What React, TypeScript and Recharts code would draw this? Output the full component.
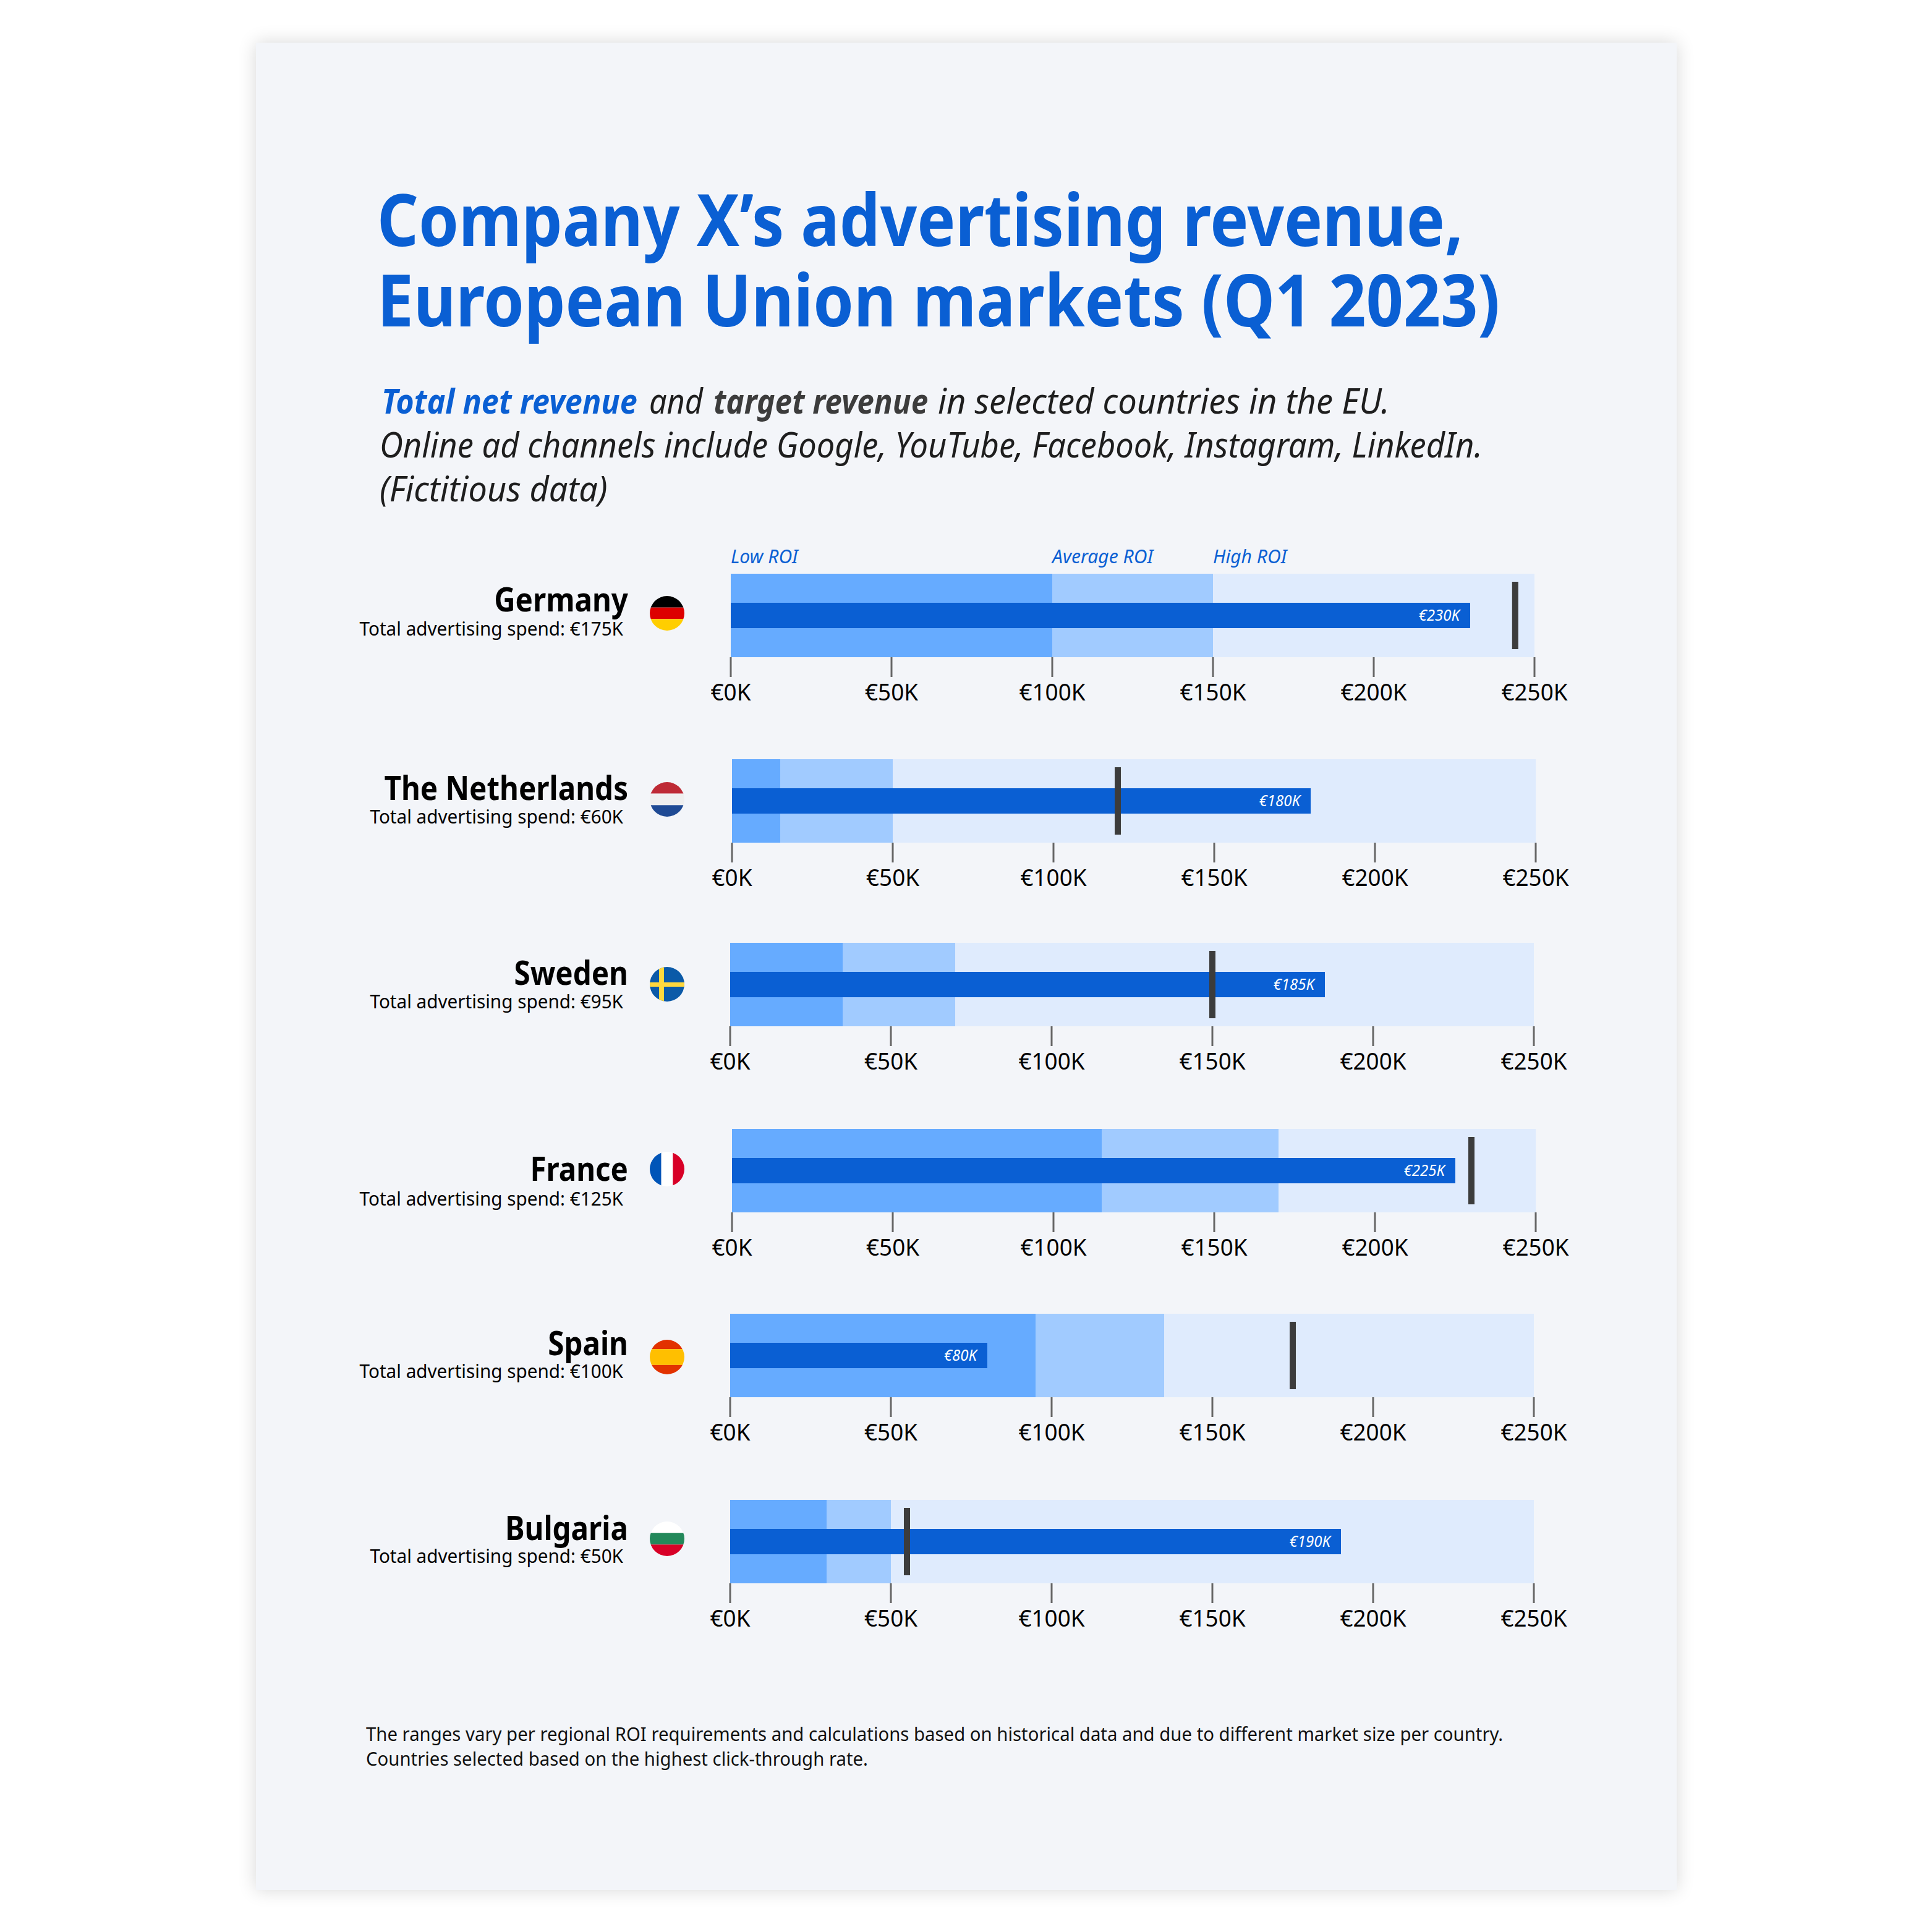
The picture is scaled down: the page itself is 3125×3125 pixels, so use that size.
import { Bar, ComposedChart, LabelList, XAxis, YAxis } from "recharts";

// Data (all in € thousands)
const countries = ["Germany", "The Netherlands", "Sweden", "France", "Spain", "Bulgaria"];
const lowRoiEnd = [100, 15, 35, 115, 95, 30];
const averageRoiEnd = [150, 50, 70, 170, 135, 50];
const highRoiEnd = [250, 250, 250, 250, 250, 250];
const netRevenue = [230, 180, 185, 225, 80, 190];
const targetRevenue = [244, 120, 150, 230, 175, 55];
const adSpend = [175, 60, 95, 125, 100, 50];
const xTicks = [0, 50, 100, 150, 200, 250];
const roiBandNames = ["Low ROI", "Average ROI", "High ROI"];

// Page layout, in reference pixels
const plotLeft = [1182, 1184, 1181, 1184, 1181, 1181];
const plotTop = [928, 1228, 1525, 1826, 2125, 2426];
const nameBaseline = [989, 1294, 1593, 1910, 2192, 2491];
const spendBaseline = [1028, 1332, 1631, 1950, 2229, 2528];
const flagCenterY = [992, 1293, 1592, 1891, 2195, 2489];

const PLOT_W = 1300;
const PLOT_H = 135;
const CHART_LEFT = 500;
const CHART_W = 2100;
const MARGIN_TOP = 70;
const AXIS_H = 90;

const BLUE = "#0A5FD3";
const DARK = "#3C3C3C";
const SANS = "'Noto Sans', sans-serif";

// PT Sans-like narrow text: Noto Sans squeezed horizontally
function Squeezed({
  x,
  y,
  sx = 0.86,
  size,
  weight = 400,
  italic = false,
  fill = "#000",
  anchor = "start",
  children,
}: {
  x: number;
  y: number;
  sx?: number;
  size: number;
  weight?: number;
  italic?: boolean;
  fill?: string;
  anchor?: "start" | "middle" | "end";
  children: React.ReactNode;
}) {
  return (
    <text
      transform={`translate(${x} ${y}) scale(${sx} 1)`}
      fontFamily={SANS}
      fontSize={size}
      fontWeight={weight}
      fontStyle={italic ? "italic" : "normal"}
      fill={fill}
      textAnchor={anchor}
    >
      {children}
    </text>
  );
}

function Flag({ index, cx, cy }: { index: number; cx: number; cy: number }) {
  const r = 28;
  const left = cx - r;
  const top = cy - r;
  const d = r * 2;
  const id = `flag-${index}`;
  const hStripes = (colors: string[], stops: number[]) =>
    colors.map((c, i) => (
      <rect key={c + i} x={left} y={top + d * stops[i]} width={d} height={d * (stops[i + 1] - stops[i])} fill={c} />
    ));
  const vStripes = (colors: string[]) =>
    colors.map((c, i) => <rect key={c} x={left + (d * i) / 3} y={top} width={d / 3} height={d} fill={c} />);
  const stripes = [
    hStripes(["#000000", "#DD0000", "#FFCE00"], [0, 1 / 3, 2 / 3, 1]),
    hStripes(["#BE2A35", "#EFEFEF", "#1F4A94"], [0, 1 / 3, 2 / 3, 1]),
    [
      <rect key="b" x={left} y={top} width={d} height={d} fill="#0B5AA8" />,
      <rect key="v" x={left + 15} y={top} width={8} height={d} fill="#FFD83D" />,
      <rect key="h" x={left} y={cy - 3} width={d} height={7} fill="#FFD83D" />,
    ],
    vStripes(["#0055B8", "#FFFFFF", "#D80027"]),
    hStripes(["#E23200", "#FFBF00", "#E23200"], [0, 0.27, 0.73, 1]),
    hStripes(["#FFFFFF", "#23885A", "#D80027"], [0, 1 / 3, 2 / 3, 1]),
  ][index];
  return (
    <g>
      <clipPath id={id}>
        <circle cx={cx} cy={cy} r={r} />
      </clipPath>
      <g clipPath={`url(#${id})`}>{stripes}</g>
    </g>
  );
}

function CountryLabel({ index }: { index: number }) {
  // chart-local coordinates: top of the svg is plotTop - MARGIN_TOP
  const originY = plotTop[index] - MARGIN_TOP;
  return (
    <g>
      <Squeezed x={1016 - CHART_LEFT} y={nameBaseline[index] - originY} size={54} weight={700} anchor="end" sx={0.88}>
        {countries[index]}
      </Squeezed>
      <Squeezed x={1008 - CHART_LEFT} y={spendBaseline[index] - originY} size={31} anchor="end" sx={0.958}>
        {`Total advertising spend: €${adSpend[index]}K`}
      </Squeezed>
      <Flag index={index} cx={1079 - CHART_LEFT} cy={flagCenterY[index] - originY} />
    </g>
  );
}

function MoneyTick({ x, y, payload }: any) {
  return (
    <Squeezed x={x} y={y + 38} size={38} anchor="middle" sx={0.97}>
      {`€${payload.value}K`}
    </Squeezed>
  );
}

function TargetMarker({ x, y, width, height }: any) {
  return <rect x={x + width - 5} y={y} width={10} height={height} fill={DARK} />;
}

function ValueLabel({ x, y, width, height, value }: any) {
  return (
    <Squeezed x={x + width - 17} y={y + height / 2 + 8} size={25} italic fill="#FFFFFF" anchor="end" sx={0.96}>
      {`€${value}K`}
    </Squeezed>
  );
}

function bandLabel(name: string) {
  return ({ x, y }: any) => (
    <Squeezed x={x} y={y - 17} size={31} italic fill={BLUE} sx={0.97}>
      {name}
    </Squeezed>
  );
}

function BulletChart({ index }: { index: number }) {
  const row = {
    country: countries[index],
    low: lowRoiEnd[index],
    average: averageRoiEnd[index] - lowRoiEnd[index],
    high: highRoiEnd[index] - averageRoiEnd[index],
    actual: netRevenue[index],
    target: targetRevenue[index],
  };
  const marginLeft = plotLeft[index] - CHART_LEFT;
  const bands = [
    { key: "low", fill: "#66ABFF" },
    { key: "average", fill: "#A1CBFF" },
    { key: "high", fill: "#DFEBFD" },
  ];
  const chartH = MARGIN_TOP + PLOT_H + AXIS_H;
  return (
    <div style={{ position: "absolute", left: CHART_LEFT, top: plotTop[index] - MARGIN_TOP }}>
      <ComposedChart
        layout="vertical"
        width={CHART_W}
        height={chartH}
        data={[row]}
        barGap={0}
        barCategoryGap="0%"
        margin={{ top: MARGIN_TOP, bottom: 0, left: marginLeft, right: CHART_W - marginLeft - PLOT_W }}
      >
        <XAxis
          type="number"
          domain={[0, 250]}
          ticks={xTicks}
          interval={0}
          axisLine={false}
          tickLine={{ stroke: "#666666", strokeWidth: 3 }}
          tickSize={32}
          tickMargin={0}
          height={AXIS_H}
          tick={MoneyTick}
        />
        <YAxis yAxisId="range" type="category" dataKey="country" hide />
        <YAxis yAxisId="actual" type="category" dataKey="country" hide />
        <YAxis yAxisId="target" type="category" dataKey="country" hide />
        {/* no barSize here: a barSize equal to the band makes recharts shrink it to 90% */}
        {bands.map((b, i) => (
          <Bar key={b.key} yAxisId="range" dataKey={b.key} stackId="roi" fill={b.fill} isAnimationActive={false}>
            {index === 0 && <LabelList dataKey={b.key} content={bandLabel(roiBandNames[i])} />}
          </Bar>
        ))}
        <Bar yAxisId="actual" dataKey="actual" fill={BLUE} barSize={41} isAnimationActive={false}>
          <LabelList dataKey="actual" content={ValueLabel} />
        </Bar>
        <Bar yAxisId="target" dataKey="target" barSize={109} shape={TargetMarker} isAnimationActive={false} />
      </ComposedChart>
      <svg width={CHART_W} height={chartH} style={{ position: "absolute", left: 0, top: 0, pointerEvents: "none" }}>
        <CountryLabel index={index} />
      </svg>
    </div>
  );
}

export default function App() {
  return (
    <div style={{ position: "absolute", left: 0, top: 0, width: 3125, height: 3125, background: "#FFFFFF", overflow: "hidden" }}>
      <div
        style={{
          position: "absolute",
          left: 414,
          top: 69,
          width: 2298,
          height: 2988,
          background: "#F3F5F9",
          boxShadow: "0 0 28px rgba(0,0,0,0.16)",
        }}
      />
      <svg width={3125} height={3125} style={{ position: "absolute", left: 0, top: 0 }}>
        <Squeezed x={610} y={398} size={116} weight={700} fill={BLUE} sx={0.899}>
          Company X’s advertising revenue,
        </Squeezed>
        <Squeezed x={610} y={528} size={116} weight={700} fill={BLUE} sx={0.907}>
          European Union markets (Q1 2023)
        </Squeezed>

        <Squeezed x={617} y={669} size={56} weight={700} italic fill={BLUE} sx={0.9}>
          Total net revenue
        </Squeezed>
        <Squeezed x={1050} y={669} size={56} italic fill="#1E1E1E" sx={0.9}>
          and
        </Squeezed>
        <Squeezed x={1154} y={669} size={56} weight={700} italic fill={DARK} sx={0.885}>
          target revenue
        </Squeezed>
        <Squeezed x={1517} y={669} size={56} italic fill="#1E1E1E" sx={0.97}>
          in selected countries in the EU.
        </Squeezed>
        <Squeezed x={614} y={740} size={56} italic fill="#1E1E1E" sx={0.937}>
          Online ad channels include Google, YouTube, Facebook, Instagram, LinkedIn.
        </Squeezed>
        <Squeezed x={614} y={811} size={56} italic fill="#1E1E1E" sx={0.964}>
          (Fictitious data)
        </Squeezed>

        <Squeezed x={592} y={2816} size={31} fill="#111111" sx={0.947}>
          The ranges vary per regional ROI requirements and calculations based on historical data and due to different market size per country.
        </Squeezed>
        <Squeezed x={592} y={2856} size={31} fill="#111111" sx={0.947}>
          Countries selected based on the highest click-through rate.
        </Squeezed>
      </svg>
      {countries.map((c, i) => (
        <BulletChart key={c} index={i} />
      ))}
    </div>
  );
}
